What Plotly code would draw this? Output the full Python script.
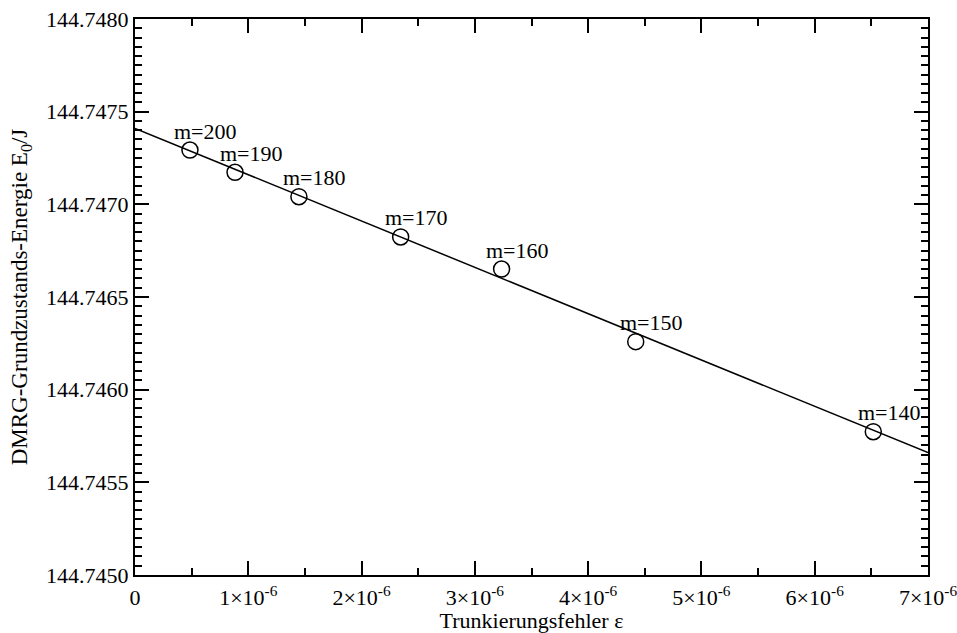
import plotly.graph_objects as go

# DMRG ground-state energy versus truncation error for different numbers of kept states m
m_states = [200, 190, 180, 170, 160, 150, 140]
trunc_error = [0.485e-6, 0.883e-6, 1.447e-6, 2.345e-6, 3.236e-6, 4.42e-6, 6.517e-6]
energy = [144.747293, 144.747173, 144.747041, 144.746824, 144.746651, 144.746259, 144.745773]

# linear extrapolation line (epsilon -> 0)
fit_x = [0.0, 7e-6]
fit_y = [144.74741, 144.74566]

x_tickvals = [0, 1e-6, 2e-6, 3e-6, 4e-6, 5e-6, 6e-6, 7e-6]
x_ticktext = ["0", "1×10<sup>-6</sup>", "2×10<sup>-6</sup>", "3×10<sup>-6</sup>",
              "4×10<sup>-6</sup>", "5×10<sup>-6</sup>", "6×10<sup>-6</sup>", "7×10<sup>-6</sup>"]
y_tickvals = [144.7450, 144.7455, 144.7460, 144.7465, 144.7470, 144.7475, 144.7480]

FONT = "Liberation Serif, Times New Roman, serif"
FS = 22

fig = go.Figure()
fig.add_trace(go.Scatter(
    x=fit_x, y=fit_y, mode="lines",
    line=dict(color="black", width=1.5), showlegend=False, hoverinfo="skip"))
fig.add_trace(go.Scatter(
    x=trunc_error, y=energy, mode="markers",
    marker=dict(symbol="circle-open", size=16, color="black", line=dict(width=1.5)),
    showlegend=False))

for m, xv, yv in zip(m_states, trunc_error, energy):
    fig.add_annotation(x=xv, y=yv, text=f"m={m}", showarrow=False,
                       xshift=16, yshift=19, font=dict(family=FONT, size=FS, color="black"))

axis_common = dict(
    showgrid=False, zeroline=False, showline=True, linecolor="black", linewidth=2,
    mirror="ticks", ticks="inside", tickcolor="black", tickwidth=1.5,
    tickfont=dict(family=FONT, size=FS, color="black"), automargin=False,
)

fig.update_xaxes(
    range=[0, 7e-6], tickvals=x_tickvals, ticktext=x_ticktext, ticklen=14,
    ticklabeloverflow="allow", ticklabelstandoff=2,
    minor=dict(ticks="inside", ticklen=7, dtick=0.5e-6, tick0=0, tickcolor="black", tickwidth=1.5),
    title=dict(text="Trunkierungsfehler ε", font=dict(family=FONT, size=FS, color="black"),
               standoff=0),
    **axis_common)
fig.update_yaxes(
    range=[144.7450, 144.7480], tickvals=y_tickvals, tickformat=".4f", ticklen=14,
    minor=dict(ticks="inside", ticklen=7, dtick=0.00005, tick0=144.7450, tickcolor="black", tickwidth=1.5),
    title=dict(text="DMRG-Grundzustands-Energie E<sub>0</sub>/J",
               font=dict(family=FONT, size=23, color="black"), standoff=12),
    **axis_common)

fig.update_layout(
    width=957, height=633,
    margin=dict(l=135, r=29, t=19, b=58),
    plot_bgcolor="white", paper_bgcolor="white",
    font=dict(family=FONT, color="black"),
)

fig.write_html("out.html")
